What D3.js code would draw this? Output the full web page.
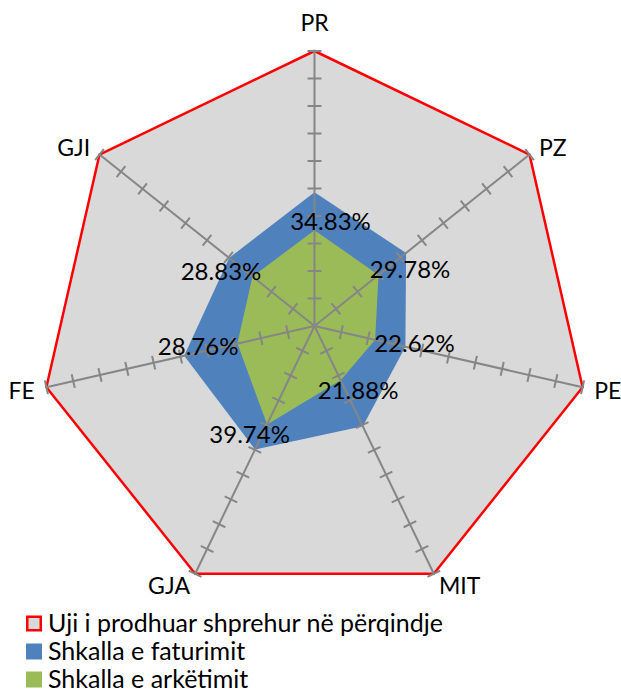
<!DOCTYPE html>
<html>
<head>
<meta charset="utf-8">
<script src="https://cdn.jsdelivr.net/npm/d3@7"></script>
<style>
    body { margin: 0; background: #fff; }
    svg { display: block; font-family: Lato, 'Open Sans', sans-serif; }
</style>
</head>
<body>
<svg width="621" height="692"></svg>
<script>
// categories round the radar, clockwise from the top
const categories = ['PR', 'PZ', 'PE', 'MIT', 'GJA', 'FE', 'GJI']
const seriesNames = ['Uji i prodhuar shprehur në përqindje', 'Shkalla e faturimit', 'Shkalla e arkëtimit']
const produced = [100, 100, 100, 100, 100, 100, 100]
const billing = [48.6, 42.6, 33.9, 40.5, 49.8, 48.6, 39.7]
const collection = [34.83, 29.78, 22.62, 21.88, 39.74, 28.76, 28.83]

const svg = d3.select('svg')
const cx = 314.5, cy = 326, R = 275

const r = d3.scaleLinear().domain([0, 100]).range([0, R])
const angle = d3.scaleLinear().domain([0, categories.length]).range([0, 2 * Math.PI])
const pt = (i, v) => [cx + Math.sin(angle(i)) * r(v), cy - Math.cos(angle(i)) * r(v)]

const g = svg.append('g')
const radial = d3.lineRadial()
    .angle((d, i) => angle(i))
    .radius(d => r(d))
    .curve(d3.curveLinearClosed)

// series, back to front
g.append('path').datum(produced)
    .attr('transform', `translate(${cx},${cy})`)
    .attr('d', radial).attr('fill', '#d9d9d9')
g.append('path').datum(billing)
    .attr('transform', `translate(${cx},${cy})`)
    .attr('d', radial).attr('fill', '#4f81bd')
g.append('path').datum(collection)
    .attr('transform', `translate(${cx},${cy})`)
    .attr('d', radial).attr('fill', '#9bbb59')
g.append('path').datum(produced)
    .attr('transform', `translate(${cx},${cy})`)
    .attr('d', radial).attr('fill', 'none')
    .attr('stroke', '#ff0000').attr('stroke-width', 2.5).attr('stroke-linejoin', 'round')

// spokes with tick marks
const axisColor = '#868686'
const tickVals = r.ticks(10).filter(t => t > 0)
categories.forEach((c, i) => {
    const a = angle(i)
    const end = pt(i, 100)
    g.append('line')
        .attr('x1', cx).attr('y1', cy).attr('x2', end[0]).attr('y2', end[1])
        .attr('stroke', axisColor).attr('stroke-width', 2)
    const nx = Math.cos(a), ny = Math.sin(a)
    g.selectAll(null).data(tickVals).enter().append('line')
        .attr('x1', t => pt(i, t)[0] - nx * 7).attr('y1', t => pt(i, t)[1] - ny * 7)
        .attr('x2', t => pt(i, t)[0] + nx * 7).attr('y2', t => pt(i, t)[1] + ny * 7)
        .attr('stroke', axisColor).attr('stroke-width', 2)
})

// category labels
categories.forEach((c, i) => {
    const a = angle(i)
    const s = Math.sin(a), co = Math.cos(a)
    const pad = co > 0.99 ? 29 : 12
    g.append('text')
        .attr('x', cx + s * (R + pad))
        .attr('y', cy - co * (R + pad))
        .attr('text-anchor', s > 0.1 ? 'start' : s < -0.1 ? 'end' : 'middle')
        .attr('dominant-baseline', 'central')
        .attr('font-size', 23)
        .attr('fill', '#000')
        .text(c)
})

// data labels on the collection series
const fmt = d3.format('.2f')
collection.forEach((v, i) => {
    const a = angle(i)
    const p = pt(i, v)
    const t = g.append('text')
        .attr('text-anchor', 'middle')
        .attr('dominant-baseline', 'central')
        .attr('font-size', 24)
        .attr('fill', '#000')
        .text(fmt(v) + '%')
    const w = t.node().getComputedTextLength()
    // top label sits a little to the right of its spoke
    const shift = Math.cos(a) > 0.99 ? 16 : 0
    t.attr('x', p[0] + Math.sin(a) * w / 2 + shift).attr('y', p[1] - Math.cos(a) * 10)
})

// legend
const legend = svg.append('g').attr('transform', 'translate(26,0)')
const swatch = [
    {fill: '#d9d9d9', stroke: '#ff0000'},
    {fill: '#4f81bd', stroke: 'none'},
    {fill: '#9bbb59', stroke: 'none'}
]
seriesNames.forEach((name, i) => {
    const base = 631.5 + i * 28
    legend.append('rect')
        .attr('x', swatch[i].stroke === 'none' ? 0 : 1.25)
        .attr('y', swatch[i].stroke === 'none' ? base - 16 : base - 14.75)
        .attr('width', swatch[i].stroke === 'none' ? 16 : 13.5)
        .attr('height', swatch[i].stroke === 'none' ? 16 : 13.5)
        .attr('fill', swatch[i].fill)
        .attr('stroke', swatch[i].stroke)
        .attr('stroke-width', 2.5)
    legend.append('text')
        .attr('x', 22).attr('y', base)
        .attr('font-size', 25)
        .attr('fill', '#000')
        .text(name)
})
</script>
</body>
</html>
